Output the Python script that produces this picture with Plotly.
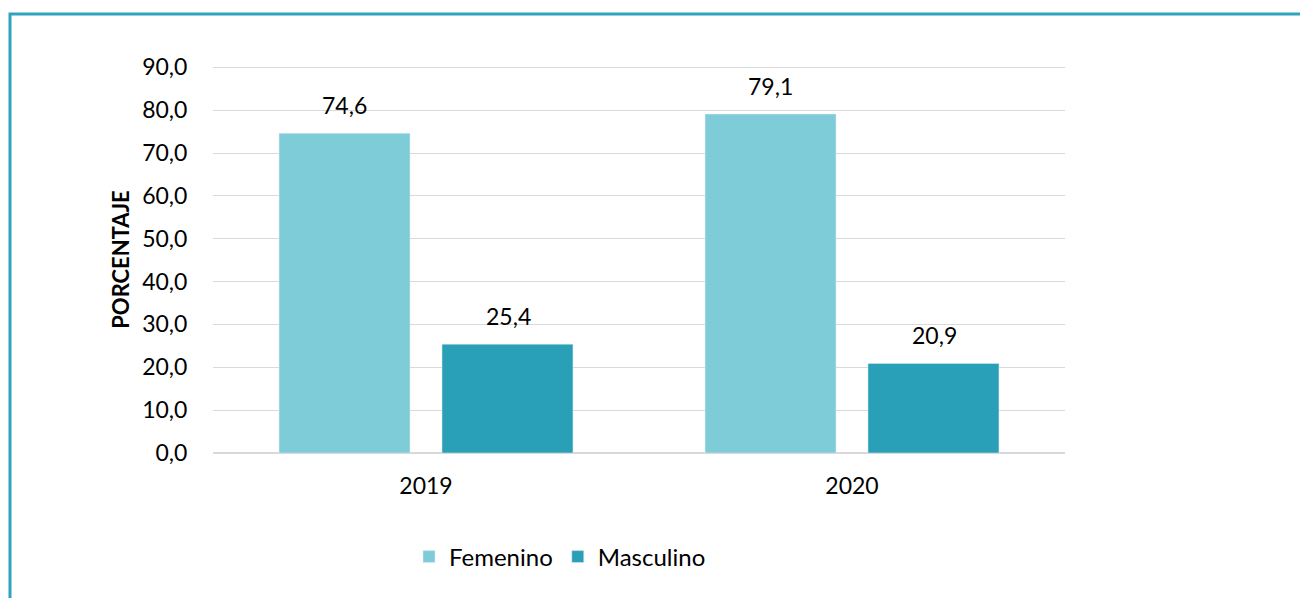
import plotly.graph_objects as go

years = ["2019", "2020"]
femenino = [74.6, 79.1]
masculino = [25.4, 20.9]
y_ticks = [0, 10, 20, 30, 40, 50, 60, 70, 80, 90]

# page body adds an 8px margin, so the figure is 8px smaller than the window
W, H = 1300, 590
L, R, T, B = 205, 243, 58, 145
pw, ph = W - L - R, H - T - B


def coma(v):
    return f"{v:.1f}".replace(".", ",")


fig = go.Figure()
fig.add_trace(go.Bar(x=years, y=femenino, name="Femenino", marker_color="#7FCCD9"))
fig.add_trace(go.Bar(x=years, y=masculino, name="Masculino", marker_color="#2AA0B8"))

# data labels sit well above the bars (x given as category index, "2019" would be read as a number)
for i in range(len(years)):
    for j, vals in enumerate([femenino, masculino]):
        fig.add_annotation(x=i, y=vals[i], text=coma(vals[i]),
                           showarrow=False, yshift=28, xshift=(-82 if j == 0 else 82),
                           font=dict(size=23, color="#000000"))

# teal frame around the chart
fig.add_shape(type="rect", xref="paper", yref="paper",
              x0=(2 - L) / pw, x1=(W + 20 - L) / pw,
              y0=(H - B - (H + 20)) / ph, y1=(H - B - 6) / ph,
              line=dict(color="#2FA3BF", width=3))

fig.update_layout(
    width=W, height=H,
    margin=dict(l=L, r=R, t=T, b=B),
    plot_bgcolor="white", paper_bgcolor="white",
    font=dict(family="Lato, Noto Sans, sans-serif", size=23, color="#000000"),
    barmode="group", bargap=0.235, bargroupgap=0.196,
    showlegend=True,
    legend=dict(orientation="h", x=(552 - L) / pw, xanchor="center",
                y=(H - B - 549) / ph, yanchor="middle", font=dict(size=24)),
    xaxis=dict(type="category", range=[-0.5, 1.5], showgrid=False, showline=False,
               tickfont=dict(size=23), ticks="outside", ticklen=12, tickcolor="rgba(0,0,0,0)"),
    yaxis=dict(range=[0, 90.3], tickvals=y_ticks, ticktext=[coma(v) for v in y_ticks],
               showgrid=True, gridcolor="#D9D9D9",
               gridwidth=1, zeroline=True, zerolinecolor="#D9D9D9", zerolinewidth=2,
               tickfont=dict(size=23), ticks="outside", ticklen=20, tickcolor="rgba(0,0,0,0)",
               title=dict(text="<b>PORCENTAJE</b>", font=dict(size=22), standoff=6)),
)

fig.write_html("out.html")
